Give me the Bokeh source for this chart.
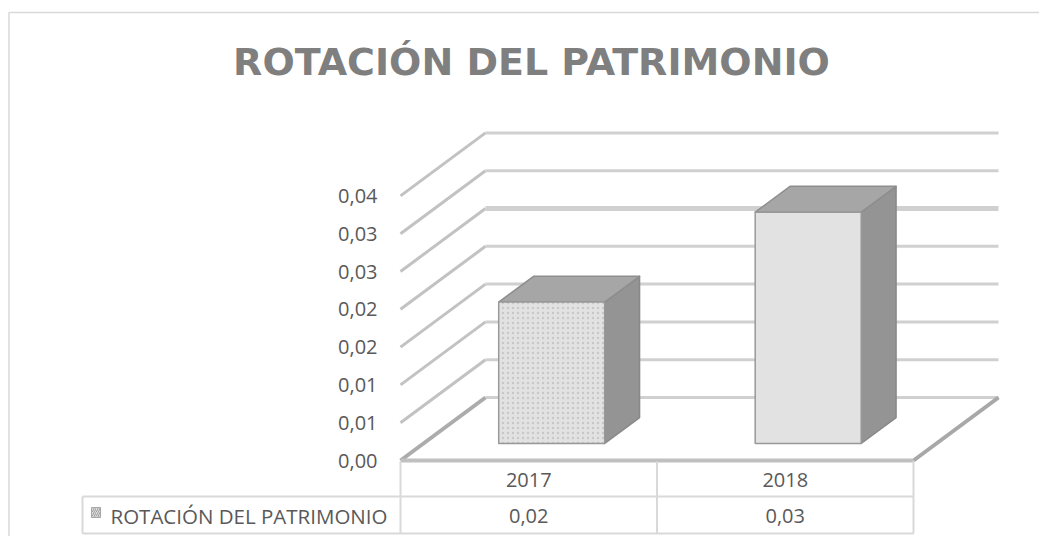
from bokeh.plotting import figure
from bokeh.models import Range1d, ColumnDataSource
from bokeh.core.properties import value
from bokeh.embed import file_html
from bokeh.resources import INLINE

# ---------------- data ----------------
title_text = "ROTACIÓN DEL PATRIMONIO"
series_name = "ROTACIÓN DEL PATRIMONIO"
categories = ["2017", "2018"]
values = [0.0187, 0.0306]
y_ticks = [0.000, 0.005, 0.010, 0.015, 0.020, 0.025, 0.030, 0.035]
y_tick_labels = ["0,00", "0,01", "0,01", "0,02", "0,02", "0,03", "0,03", "0,04"]

# ---------------- layout (page pixels) ----------------
W, H = 1039, 536
MARGIN = 0
X0, UX = 400.0, 256.5      # page x of category origin, px per category
Y0, UY = 460.0, 7560.0     # page y of value 0 (front plane), px per value unit
DEPTH_DX, DEPTH_DY = 85.0, 63.0
DX, DY = DEPTH_DX / UX, DEPTH_DY / UY
BAR_HALF = 53.0 / UX
F_FRONT, F_BACK = 0.27, 0.68


def fx(px):
    return (px - X0) / UX


def fy(py):
    return (Y0 - py) / UY


def proj(x, v, d):
    return x + d * DX, v + d * DY


n = len(categories)
FONT = value("Open Sans")
TXT = "#595959"

p = figure(width=W, height=H, output_backend="svg", toolbar_location=None,
           x_range=Range1d(fx(MARGIN), fx(MARGIN + W)),
           y_range=Range1d(fy(MARGIN + H), fy(MARGIN)),
           x_axis_type=None, y_axis_type=None, min_border=0)
p.grid.visible = False
p.outline_line_color = None
p.background_fill_color = "white"
p.border_fill_color = "white"

# chart border (left / top visible)
p.line(x=[fx(8.5), fx(8.5), fx(1100)], y=[fy(600), fy(12), fy(12)],
       line_color="#d9d9d9", line_width=1.5)

# title
p.text(x=[fx(531)], y=[fy(61.5)], text=[title_text], text_font=value("DejaVu Sans"),
       text_font_style="bold", text_font_size="38px", text_color="#7f7f7f",
       text_align="center", text_baseline="middle")

# side wall diagonal grid lines
side_xs, side_ys = [], []
for v in y_ticks[1:]:
    a = proj(0, v, 0)
    b = proj(0, v, 1)
    side_xs.append([a[0], b[0]])
    side_ys.append([a[1], b[1]])
p.multi_line(xs=side_xs, ys=side_ys, line_color="#c2c2c2", line_width=3)

# back wall grid lines
back_xs, back_ys, back_w = [], [], []
for v in y_ticks:
    a = proj(0, v, 1)
    b = proj(n, v, 1)
    back_xs.append([a[0], b[0]])
    back_ys.append([a[1], b[1]])
    back_w.append(5 if abs(v - 0.025) < 1e-9 else 3)
p.multi_line(xs="xs", ys="ys", line_width="w",
             source=ColumnDataSource(dict(xs=back_xs, ys=back_ys, w=back_w)),
             line_color="#d0d0d0")

# floor
a0, b0 = proj(0, 0, 0), proj(0, 0, 1)
a1, b1 = proj(n, 0, 0), proj(n, 0, 1)
p.line(x=[a0[0], b0[0]], y=[a0[1], b0[1]], line_color="#acacac", line_width=4)
p.line(x=[a1[0], b1[0]], y=[a1[1], b1[1]], line_color="#a8a8a8", line_width=4)
p.line(x=[a0[0], a1[0]], y=[a0[1], a1[1]], line_color="#c0c0c0", line_width=4)

# y tick labels
p.text(x=[fx(377)] * len(y_ticks), y=y_ticks, text=y_tick_labels, text_font=FONT,
       text_font_size="20px", text_color=TXT, text_align="right", text_baseline="middle")

# bars
side_x, side_y, top_x, top_y, front_x, front_y = [], [], [], [], [], []
for i, v in enumerate(values):
    c = i + 0.5
    l, r = c - BAR_HALF, c + BAR_HALF
    pts = [proj(r, 0, F_FRONT), proj(r, 0, F_BACK), proj(r, v, F_BACK), proj(r, v, F_FRONT)]
    side_x.append([q[0] for q in pts]); side_y.append([q[1] for q in pts])
    pts = [proj(l, v, F_FRONT), proj(r, v, F_FRONT), proj(r, v, F_BACK), proj(l, v, F_BACK)]
    top_x.append([q[0] for q in pts]); top_y.append([q[1] for q in pts])
    pts = [proj(l, 0, F_FRONT), proj(r, 0, F_FRONT), proj(r, v, F_FRONT), proj(l, v, F_FRONT)]
    front_x.append([q[0] for q in pts]); front_y.append([q[1] for q in pts])

p.patches(xs=side_x, ys=side_y, fill_color="#949494", line_color="#888888",
          line_width=1.5, line_join="round")
p.patches(xs=top_x, ys=top_y, fill_color="#a6a6a6", line_color="#8e8e8e",
          line_width=1.5, line_join="round")
front_src = ColumnDataSource(dict(xs=front_x, ys=front_y,
                                  hp=["dot" if i == 0 else " " for i in range(n)]))
p.patches(xs="xs", ys="ys", source=front_src, fill_color="#e2e2e2", line_color="#999999",
          line_width=1.5, line_join="round", hatch_pattern="hp", hatch_color="#c8c8c8",
          hatch_scale=5, hatch_weight=1)

# data table
tc = "#d9d9d9"
p.multi_line(xs=[[float(k), float(k)] for k in range(n + 1)],
             ys=[[fy(461), fy(533)]] * (n + 1), line_color=tc, line_width=2)
p.multi_line(xs=[[fx(82), float(n)], [fx(82), float(n)], [fx(82), fx(82)]],
             ys=[[fy(496), fy(496)], [fy(533), fy(533)], [fy(496), fy(533)]],
             line_color=tc, line_width=2)
centers = [i + 0.5 for i in range(n)]
p.text(x=centers, y=[fy(479)] * n, text=categories, text_font=FONT, text_font_size="20px",
       text_color=TXT, text_align="center", text_baseline="middle")
val_labels = [f"{v:.2f}".replace(".", ",") for v in values]
p.text(x=centers, y=[fy(515)] * n, text=val_labels, text_font=FONT, text_font_size="20px",
       text_color=TXT, text_align="center", text_baseline="middle")
p.quad(left=[fx(91)], right=[fx(100)], top=[fy(507)], bottom=[fy(517)],
       fill_color="#dcdcdc", line_color="#a6a6a6", line_width=1,
       hatch_pattern="/", hatch_color="#a0a0a0", hatch_scale=4, hatch_weight=1)
p.text(x=[fx(110)], y=[fy(515)], text=[series_name], text_font=FONT, text_font_size="20.5px",
       text_color=TXT, text_align="left", text_baseline="middle")

open("out.html", "w").write(file_html(p, INLINE))
